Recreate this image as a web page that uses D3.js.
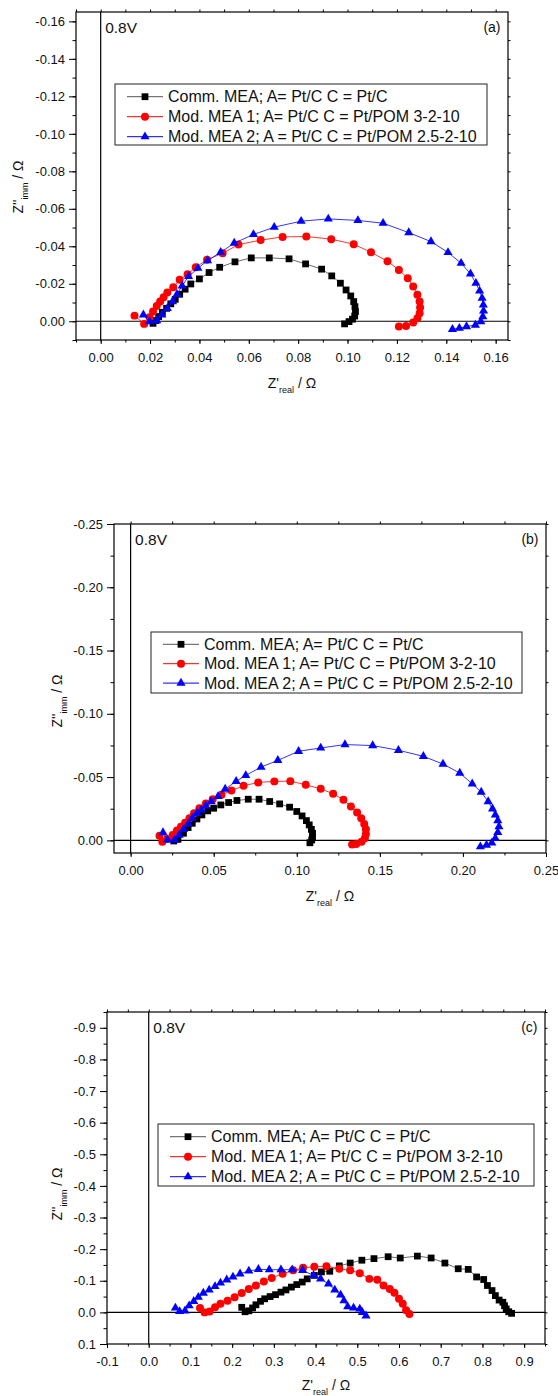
<!DOCTYPE html>
<html>
<head>
<meta charset="utf-8">
<script src="https://cdn.jsdelivr.net/npm/d3@7"></script>
<style>
body { margin: 0; background: #fff; }
svg { display: block; }
text { font-family: "Liberation Sans", Arial, sans-serif; fill: #111; }
</style>
</head>
<body>
<script>
// Nyquist data: [Z' real, Z'' imm] in ohm
var aComm = [[0.0212,0.0011],[0.0224,-0.0004],[0.0235,-0.0025],[0.0250,-0.0048],[0.0267,-0.0069],[0.0284,-0.0093],[0.0302,-0.0117],[0.0320,-0.0144],[0.0342,-0.0171],[0.0365,-0.0199],[0.0400,-0.0226],[0.0439,-0.0260],[0.0482,-0.0288],[0.0544,-0.0317],[0.0610,-0.0338],[0.0683,-0.0338],[0.0763,-0.0333],[0.0830,-0.0306],[0.0895,-0.0278],[0.0936,-0.0242],[0.0971,-0.0203],[0.0994,-0.0167],[0.1013,-0.0135],[0.1025,-0.0105],[0.1030,-0.0078],[0.1032,-0.0052],[0.1029,-0.0028],[0.1020,-0.0011],[0.1006,0.0002],[0.0988,0.0014]];
var aMod1 = [[0.0137,-0.0030],[0.0176,0.0014],[0.0198,-0.0021],[0.0212,-0.0052],[0.0227,-0.0082],[0.0241,-0.0105],[0.0255,-0.0128],[0.0270,-0.0153],[0.0294,-0.0182],[0.0320,-0.0221],[0.0352,-0.0251],[0.0385,-0.0288],[0.0431,-0.0328],[0.0494,-0.0363],[0.0558,-0.0409],[0.0648,-0.0433],[0.0737,-0.0450],[0.0833,-0.0452],[0.0934,-0.0438],[0.1025,-0.0411],[0.1095,-0.0368],[0.1162,-0.0320],[0.1208,-0.0274],[0.1244,-0.0230],[0.1266,-0.0185],[0.1283,-0.0141],[0.1292,-0.0105],[0.1294,-0.0073],[0.1292,-0.0043],[0.1283,-0.0016],[0.1266,0.0007],[0.1237,0.0025],[0.1208,0.0028]];
var aMod2 = [[0.0173,-0.0034],[0.0198,0.0002],[0.0227,-0.0004],[0.0248,-0.0034],[0.0270,-0.0069],[0.0291,-0.0105],[0.0309,-0.0144],[0.0330,-0.0189],[0.0356,-0.0239],[0.0394,-0.0283],[0.0433,-0.0324],[0.0486,-0.0368],[0.0541,-0.0417],[0.0619,-0.0463],[0.0703,-0.0502],[0.0812,-0.0534],[0.0922,-0.0546],[0.1042,-0.0538],[0.1144,-0.0523],[0.1248,-0.0473],[0.1338,-0.0425],[0.1407,-0.0367],[0.1460,-0.0310],[0.1498,-0.0253],[0.1520,-0.0203],[0.1535,-0.0162],[0.1545,-0.0123],[0.1550,-0.0087],[0.1551,-0.0055],[0.1548,-0.0025],[0.1540,0.0002],[0.1518,0.0020],[0.1482,0.0028],[0.1453,0.0037],[0.1425,0.0043]];

var bComm = [[0.0260,0.0005],[0.0285,-0.0008],[0.0318,-0.0056],[0.0346,-0.0101],[0.0371,-0.0135],[0.0399,-0.0169],[0.0429,-0.0201],[0.0464,-0.0233],[0.0500,-0.0254],[0.0543,-0.0280],[0.0590,-0.0299],[0.0640,-0.0315],[0.0708,-0.0325],[0.0773,-0.0325],[0.0837,-0.0307],[0.0897,-0.0288],[0.0957,-0.0262],[0.1000,-0.0228],[0.1032,-0.0193],[0.1058,-0.0156],[0.1075,-0.0122],[0.1088,-0.0087],[0.1095,-0.0056],[0.1095,-0.0029],[0.1090,-0.0003],[0.1079,0.0019]];
var bMod1 = [[0.0174,-0.0037],[0.0191,0.0011],[0.0221,-0.0011],[0.0253,-0.0042],[0.0279,-0.0077],[0.0303,-0.0108],[0.0328,-0.0140],[0.0354,-0.0175],[0.0382,-0.0214],[0.0414,-0.0254],[0.0453,-0.0291],[0.0494,-0.0325],[0.0547,-0.0360],[0.0607,-0.0394],[0.0680,-0.0431],[0.0768,-0.0458],[0.0865,-0.0466],[0.0961,-0.0468],[0.1054,-0.0439],[0.1144,-0.0407],[0.1219,-0.0368],[0.1281,-0.0320],[0.1326,-0.0267],[0.1363,-0.0220],[0.1388,-0.0175],[0.1406,-0.0130],[0.1416,-0.0087],[0.1416,-0.0050],[0.1410,-0.0016],[0.1390,0.0011],[0.1358,0.0029],[0.1333,0.0032]];
var bMod2 = [[0.0195,-0.0061],[0.0221,-0.0003],[0.0264,-0.0003],[0.0292,-0.0042],[0.0318,-0.0087],[0.0346,-0.0130],[0.0371,-0.0175],[0.0399,-0.0214],[0.0425,-0.0241],[0.0453,-0.0273],[0.0485,-0.0307],[0.0526,-0.0347],[0.0569,-0.0405],[0.0635,-0.0466],[0.0693,-0.0513],[0.0785,-0.0579],[0.0886,-0.0632],[0.1011,-0.0704],[0.1144,-0.0730],[0.1290,-0.0757],[0.1457,-0.0749],[0.1612,-0.0712],[0.1762,-0.0664],[0.1880,-0.0603],[0.1981,-0.0532],[0.2056,-0.0447],[0.2110,-0.0381],[0.2152,-0.0307],[0.2178,-0.0249],[0.2195,-0.0201],[0.2210,-0.0156],[0.2217,-0.0108],[0.2210,-0.0064],[0.2195,-0.0016],[0.2174,0.0019],[0.2142,0.0037],[0.2105,0.0050]];

var cComm = [[0.223,-0.016],[0.231,-0.002],[0.240,-0.005],[0.249,-0.014],[0.257,-0.024],[0.268,-0.035],[0.278,-0.043],[0.291,-0.050],[0.304,-0.056],[0.317,-0.064],[0.329,-0.071],[0.342,-0.080],[0.355,-0.088],[0.368,-0.096],[0.380,-0.106],[0.397,-0.117],[0.414,-0.128],[0.434,-0.130],[0.457,-0.147],[0.483,-0.156],[0.511,-0.165],[0.540,-0.170],[0.574,-0.176],[0.603,-0.172],[0.644,-0.178],[0.677,-0.172],[0.710,-0.156],[0.742,-0.138],[0.766,-0.136],[0.786,-0.112],[0.803,-0.104],[0.812,-0.085],[0.823,-0.069],[0.831,-0.053],[0.840,-0.039],[0.849,-0.032],[0.853,-0.021],[0.857,-0.011],[0.863,-0.002],[0.870,0.003]];
var cMod1 = [[0.123,-0.014],[0.134,0.000],[0.146,-0.003],[0.159,-0.016],[0.172,-0.027],[0.189,-0.037],[0.206,-0.048],[0.223,-0.061],[0.240,-0.074],[0.257,-0.085],[0.276,-0.098],[0.295,-0.109],[0.321,-0.122],[0.346,-0.133],[0.370,-0.141],[0.397,-0.144],[0.426,-0.146],[0.457,-0.138],[0.483,-0.133],[0.506,-0.124],[0.529,-0.106],[0.548,-0.103],[0.563,-0.085],[0.578,-0.074],[0.589,-0.062],[0.600,-0.043],[0.609,-0.027],[0.617,-0.007],[0.625,0.005]];
var cMod2 = [[0.064,-0.014],[0.074,-0.003],[0.087,-0.005],[0.097,-0.021],[0.108,-0.035],[0.119,-0.048],[0.131,-0.061],[0.145,-0.071],[0.159,-0.082],[0.172,-0.093],[0.187,-0.103],[0.202,-0.112],[0.219,-0.122],[0.240,-0.131],[0.263,-0.136],[0.289,-0.135],[0.317,-0.135],[0.344,-0.135],[0.369,-0.133],[0.395,-0.117],[0.412,-0.106],[0.431,-0.090],[0.446,-0.071],[0.460,-0.055],[0.468,-0.037],[0.477,-0.018],[0.491,-0.014],[0.506,-0.011],[0.512,0.000],[0.521,0.011]];

var seriesNames = ["Comm. MEA; A= Pt/C C = Pt/C",
                   "Mod. MEA 1; A= Pt/C C = Pt/POM 3-2-10",
                   "Mod. MEA 2; A = Pt/C C = Pt/POM 2.5-2-10"];
var panelLabels = ["(a)", "(b)", "(c)"];
var potential = "0.8V";

// tick values per panel
var aXTicks = [0, 0.02, 0.04, 0.06, 0.08, 0.10, 0.12, 0.14, 0.16];
var aYTicks = [-0.16, -0.14, -0.12, -0.10, -0.08, -0.06, -0.04, -0.02, 0];
var bXTicks = [0, 0.05, 0.10, 0.15, 0.20, 0.25];
var bYTicks = [-0.25, -0.20, -0.15, -0.10, -0.05, 0];
var cXTicks = [-0.1, 0, 0.1, 0.2, 0.3, 0.4, 0.5, 0.6, 0.7, 0.8, 0.9];
var cYTicks = [-0.9, -0.8, -0.7, -0.6, -0.5, -0.4, -0.3, -0.2, -0.1, 0, 0.1];

// ---- layout ----
var colors = ["#000000", "#ff0000", "#0000ff"];
var lineColors = ["#444444", "#ff0000", "#0000ff"];
var symbols = [d3.symbolSquare, d3.symbolCircle, d3.symbolTriangle];
var symSizes = [46, 50, 36];

var panels = [
  {left: 76, right: 508, top: 12, bottom: 340, xDom: [-0.01, 0.165], yDom: [-0.165, 0.01],
   xTicks: aXTicks, yTicks: aYTicks, minorStep: 0.01, fmt: ".2f",
   data: [aComm, aMod1, aMod2], ytX: 23, ytY: 187,
   leg: {x: 115, y: 84, w: 372, h: 61, mark: 145, row0: 96.7, gap: 20}},
  {left: 114, right: 546, top: 524, bottom: 853, xDom: [-0.01, 0.25], yDom: [-0.25, 0.01],
   xTicks: bXTicks, yTicks: bYTicks, minorStep: 0.025, fmt: ".2f",
   data: [bComm, bMod1, bMod2], ytX: 62, ytY: 701,
   leg: {x: 151, y: 632, w: 371, h: 61, mark: 181, row0: 644.3, gap: 19.4}},
  {left: 107, right: 545, top: 1012, bottom: 1344, xDom: [-0.1, 0.95], yDom: [-0.95, 0.1],
   xTicks: cXTicks, yTicks: cYTicks, minorStep: 0.05, fmt: ".1f",
   data: [cComm, cMod1, cMod2], ytX: 62, ytY: 1194,
   leg: {x: 158, y: 1124, w: 376, h: 62, mark: 188, row0: 1136.7, gap: 20}}
];

var svg = d3.select("body").append("svg")
  .attr("width", 558)
  .attr("height", 1396);

function minorTicks(dom, step) {
  var out = [];
  var start = Math.ceil(dom[0] / step - 1e-6);
  var end = Math.floor(dom[1] / step + 1e-6);
  for (var i = start; i <= end; i++) out.push(+(i * step).toFixed(4));
  return out;
}

function drawPanel(p, idx) {
  var x = d3.scaleLinear().domain(p.xDom).range([p.left, p.right]);
  var y = d3.scaleLinear().domain(p.yDom).range([p.top, p.bottom]);
  var fmt = function(d) { return d3.format(p.fmt)(d).replace("\u2212", "-"); };
  var g = svg.append("g");

  // zero lines
  g.append("line")
    .attr("x1", x(0)).attr("x2", x(0)).attr("y1", p.top).attr("y2", p.bottom)
    .attr("stroke", "#000").attr("stroke-width", 1.2);
  g.append("line")
    .attr("x1", p.left).attr("x2", p.right).attr("y1", y(0)).attr("y2", y(0))
    .attr("stroke", "#000").attr("stroke-width", 1.2);

  var xMinor = minorTicks(p.xDom, p.minorStep);
  var yMinor = minorTicks(p.yDom, p.minorStep);

  // bottom + left axes, major and minor
  g.append("g").attr("transform", "translate(0," + p.bottom + ")")
    .call(d3.axisBottom(x).tickValues(p.xTicks).tickSize(4).tickPadding(9).tickSizeOuter(0).tickFormat(fmt));
  g.append("g").attr("transform", "translate(0," + p.bottom + ")")
    .call(d3.axisBottom(x).tickValues(xMinor).tickSize(2.5).tickSizeOuter(0).tickFormat(""));
  g.append("g").attr("transform", "translate(" + p.left + ",0)")
    .call(d3.axisLeft(y).tickValues(p.yTicks).tickSize(7).tickPadding(4).tickSizeOuter(0).tickFormat(fmt));
  g.append("g").attr("transform", "translate(" + p.left + ",0)")
    .call(d3.axisLeft(y).tickValues(yMinor).tickSize(3.5).tickSizeOuter(0).tickFormat(""));
  // top + right small ticks
  g.append("g").attr("transform", "translate(0," + p.top + ")")
    .call(d3.axisTop(x).tickValues(xMinor).tickSize(2.5).tickSizeOuter(0).tickFormat(""));
  g.append("g").attr("transform", "translate(" + p.right + ",0)")
    .call(d3.axisRight(y).tickValues(yMinor).tickSize(2.5).tickSizeOuter(0).tickFormat(""));
  g.selectAll(".domain").remove();
  g.selectAll(".tick line").attr("stroke", "#000");
  g.selectAll(".tick text")
    .style("font-family", "'Liberation Sans', Arial, sans-serif")
    .style("font-size", "13px").attr("fill", "#111");

  // frame
  g.append("rect")
    .attr("x", p.left).attr("y", p.top)
    .attr("width", p.right - p.left).attr("height", p.bottom - p.top)
    .attr("fill", "none").attr("stroke", "#000").attr("stroke-width", 1.2);

  // series
  var line = d3.line().x(function(d) { return x(d[0]); }).y(function(d) { return y(d[1]); });
  p.data.forEach(function(ser, k) {
    g.append("path").datum(ser)
      .attr("d", line).attr("fill", "none")
      .attr("stroke", lineColors[k]).attr("stroke-width", 0.8);
    g.selectAll(null).data(ser).enter().append("path")
      .attr("transform", function(d) { return "translate(" + x(d[0]) + "," + y(d[1]) + ")"; })
      .attr("d", d3.symbol().type(symbols[k]).size(symSizes[k]))
      .attr("fill", colors[k]);
  });

  // legend
  var L = p.leg;
  g.append("rect")
    .attr("x", L.x).attr("y", L.y).attr("width", L.w).attr("height", L.h)
    .attr("fill", "#fff").attr("stroke", "#222").attr("stroke-width", 1);
  seriesNames.forEach(function(name, k) {
    var ry = L.row0 + k * L.gap;
    g.append("line")
      .attr("x1", L.mark - 18).attr("x2", L.mark + 18).attr("y1", ry).attr("y2", ry)
      .attr("stroke", k === 0 ? "#555" : lineColors[k]).attr("stroke-width", 1);
    g.append("path")
      .attr("transform", "translate(" + L.mark + "," + ry + ")")
      .attr("d", d3.symbol().type(symbols[k]).size(symSizes[k]))
      .attr("fill", colors[k]);
    g.append("text")
      .attr("x", L.mark + 23).attr("y", ry).attr("dy", "0.36em")
      .style("font-size", "16px").text(name);
  });

  // annotations
  g.append("text")
    .attr("x", x(0) + 4.5).attr("y", p.top + 21)
    .style("font-size", "15.5px").text(potential);
  g.append("text")
    .attr("x", p.right - 7.5).attr("y", p.top + 20)
    .attr("text-anchor", "end")
    .style("font-size", "14px").text(panelLabels[idx]);

  // x axis title (subscript kept inside the page at the bottom)
  var xt = g.append("text")
    .attr("x", (p.left + p.right) / 2).attr("y", Math.min(p.bottom + 48, 1390))
    .attr("text-anchor", "middle").style("font-size", "14px");
  xt.append("tspan").text("Z'");
  xt.append("tspan").attr("dy", 4.5).style("font-size", "9px").text("real");
  xt.append("tspan").attr("dy", -4.5).text(" / \u03A9");

  // y axis title
  var yt = g.append("text")
    .attr("transform", "translate(" + p.ytX + "," + p.ytY + ") rotate(-90)")
    .attr("text-anchor", "middle").style("font-size", "14px");
  yt.append("tspan").text("Z''");
  yt.append("tspan").attr("dy", 5).style("font-size", "9px").text("imm");
  yt.append("tspan").attr("dy", -5).text(" / \u03A9");
}

panels.forEach(drawPanel);
</script>
</body>
</html>
